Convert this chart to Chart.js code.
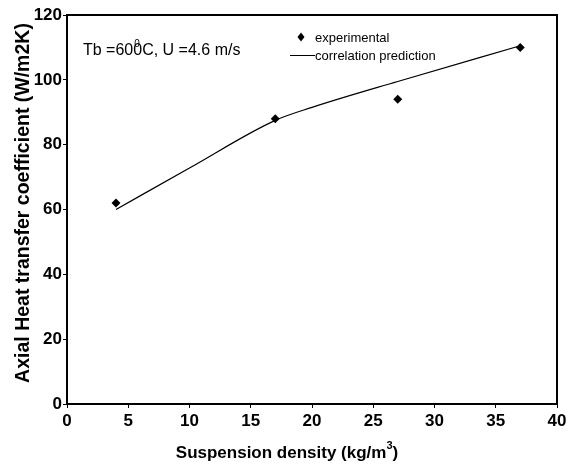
<!DOCTYPE html>
<html>
<head>
<meta charset="utf-8">
<script src="https://cdn.jsdelivr.net/npm/chart.js@4/dist/chart.umd.min.js"></script>
<style>
html,body{margin:0;padding:0;background:#fff;}
#wrap{width:571px;height:471px;}
</style>
</head>
<body>
<div id="wrap"><canvas id="c" width="571" height="471"></canvas></div>
<script>
const expX = [4, 17, 27, 37];
const expY = [62, 88, 94, 110];
const corrX = [4, 10, 17, 20, 27, 37];
const corrY = [60, 72.8, 87.5, 91.5, 99.5, 110.5];
const xTicks = [0, 5, 10, 15, 20, 25, 30, 35, 40];
const yTicks = [0, 20, 40, 60, 80, 100, 120];

const FONT = 'Liberation Sans, Arial, sans-serif';

const framePlugin = {
  id: 'frame',
  afterDraw(chart) {
    const ctx = chart.ctx, a = chart.chartArea;
    ctx.save();
    ctx.strokeStyle = '#000';
    ctx.lineWidth = 2;
    ctx.beginPath();
    ctx.moveTo(a.left, a.top);
    ctx.lineTo(a.right, a.top);
    ctx.lineTo(a.right, a.bottom);
    ctx.stroke();
    ctx.fillStyle = '#000';
    ctx.textBaseline = 'middle';
    ctx.textAlign = 'left';
    // x axis title with superscript
    const xa = 'Suspension density (kg/m', xb = ')';
    ctx.font = 'bold 11px ' + FONT;
    const w3 = ctx.measureText('3').width;
    ctx.font = 'bold 17px ' + FONT;
    const wa = ctx.measureText(xa).width, wb = ctx.measureText(xb).width;
    const total = wa + w3 + wb;
    let sx = 287 - total / 2;
    ctx.fillText(xa, sx, 453);
    ctx.font = 'bold 11px ' + FONT;
    ctx.fillText('3', sx + wa, 446);
    ctx.font = 'bold 17px ' + FONT;
    ctx.fillText(xb, sx + wa + w3, 453);
    // y axis title
    ctx.save();
    ctx.translate(24, 203);
    ctx.rotate(-Math.PI / 2);
    ctx.textAlign = 'center';
    ctx.font = 'bold 19.5px ' + FONT;
    ctx.fillText('Axial Heat transfer coefficient (W/m2K)', 0, 0);
    ctx.restore();
    // annotation
    ctx.font = '16px ' + FONT;
    const t1 = 'Tb =60';
    ctx.fillText(t1 + '0C, U =4.6 m/s', 83, 51);
    const w1 = ctx.measureText(t1).width;
    ctx.font = '10px ' + FONT;
    ctx.fillText('0', 83 + w1 + 1, 44);
    // legend
    ctx.font = '13px ' + FONT;
    ctx.fillText('experimental', 315, 38);
    ctx.fillText('correlation prediction', 315, 56);
    ctx.beginPath();
    ctx.lineWidth = 1;
    ctx.moveTo(290, 55.5);
    ctx.lineTo(315, 55.5);
    ctx.stroke();
    ctx.beginPath();
    ctx.moveTo(301, 32.5); ctx.lineTo(304.5, 37); ctx.lineTo(301, 41.5); ctx.lineTo(297.5, 37);
    ctx.closePath(); ctx.fill();
    ctx.restore();
  }
};

new Chart(document.getElementById('c'), {
  type: 'scatter',
  data: {
    datasets: [
      {
        label: 'experimental',
        data: expX.map((x, i) => ({x: x, y: expY[i]})),
        pointStyle: 'rectRot',
        pointRadius: 4.5,
        backgroundColor: '#000',
        borderColor: '#000',
        borderWidth: 0,
        showLine: false
      },
      {
        label: 'correlation prediction',
        data: corrX.map((x, i) => ({x: x, y: corrY[i]})),
        showLine: true,
        pointRadius: 0,
        borderColor: '#000',
        borderWidth: 1.2,
        cubicInterpolationMode: 'monotone',
        fill: false
      }
    ]
  },
  options: {
    responsive: false,
    animation: false,
    devicePixelRatio: 1,
    layout: {padding: {left: 0, right: 14, top: 15, bottom: 0}},
    plugins: {legend: {display: false}, tooltip: {enabled: false}},
    scales: {
      x: {
        type: 'linear', min: 0, max: 40,
        afterBuildTicks: s => { s.ticks = xTicks.map(v => ({value: v})); },
        afterFit: s => { s.height = 67; },
        grid: {drawOnChartArea: false, color: '#000', tickLength: 4, tickColor: '#000'},
        border: {color: '#000', width: 2},
        ticks: {color: '#000', font: {family: FONT, size: 17, weight: 'bold'}, padding: 3, maxRotation: 0},
        title: {display: false}
      },
      y: {
        type: 'linear', min: 0, max: 120,
        afterBuildTicks: s => { s.ticks = yTicks.map(v => ({value: v})); },
        afterFit: s => { s.width = 67; },
        grid: {drawOnChartArea: false, color: '#000', tickLength: 4, tickColor: '#000'},
        border: {color: '#000', width: 2},
        ticks: {color: '#000', font: {family: FONT, size: 17, weight: 'bold'}, padding: 1},
        title: {display: false}
      }
    }
  },
  plugins: [framePlugin]
});
</script>
</body>
</html>
